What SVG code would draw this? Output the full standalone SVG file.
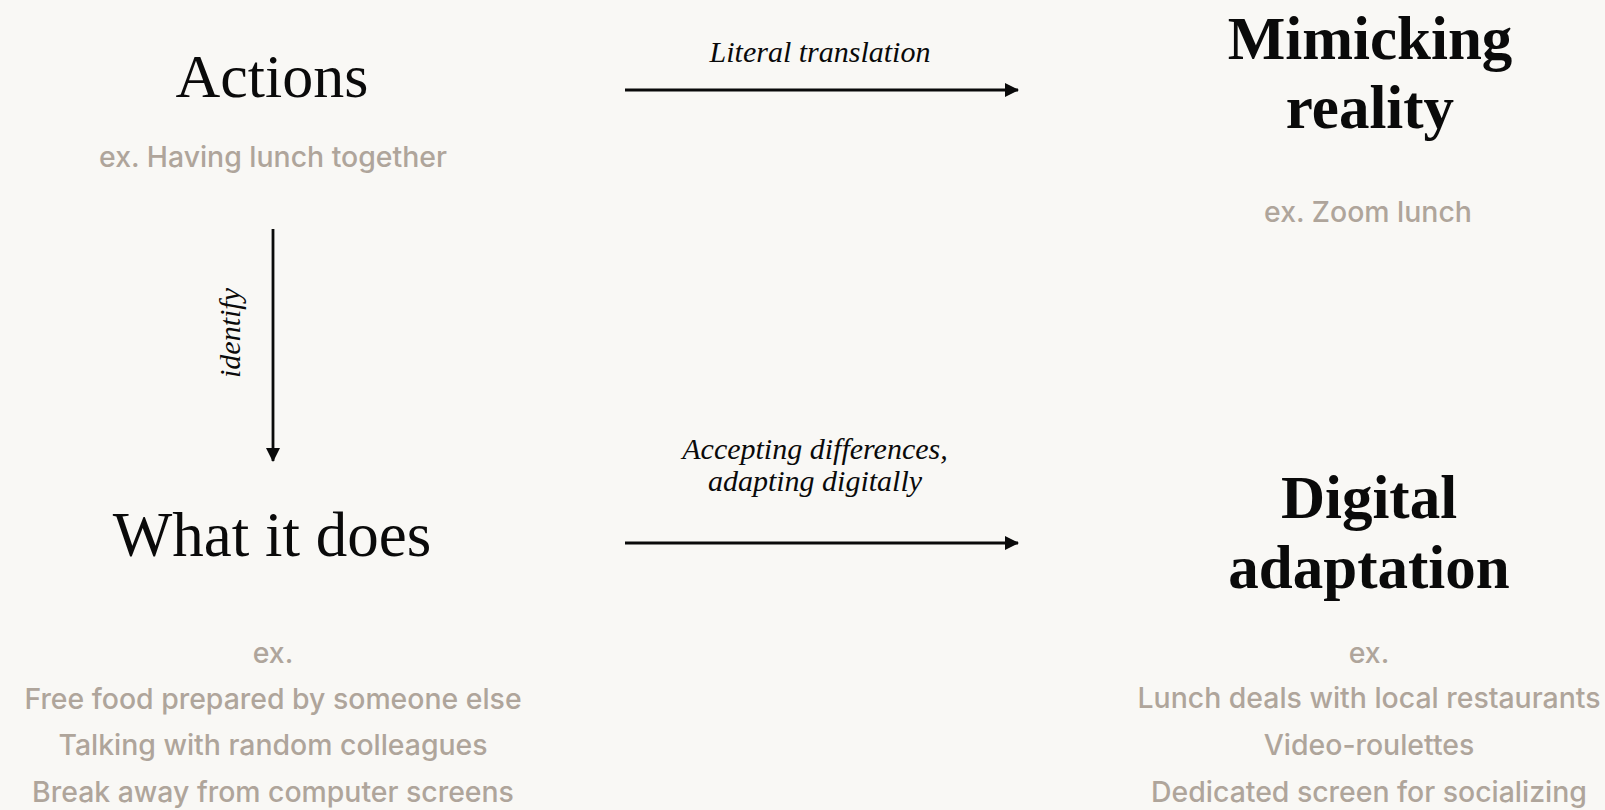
<svg xmlns="http://www.w3.org/2000/svg" width="1605" height="810" viewBox="0 0 1605 810">
<style>
.title{font-family:"Liberation Serif","DejaVu Serif",serif;font-size:62px;fill:#0a0a0a;text-anchor:middle}
.bold{font-weight:bold;font-size:61px}
.sub{font-family:Inter,"Liberation Sans",sans-serif;font-size:28.4px;font-weight:500;fill:#afa59b;text-anchor:middle}
.lbl{font-family:"Liberation Serif","DejaVu Serif",serif;font-style:italic;font-size:30px;fill:#0a0a0a;text-anchor:middle}
.conn{stroke:#0a0a0a;stroke-width:2.8;fill:none}
</style>
<defs>
<marker id="ah" viewBox="0 0 14 14" refX="13" refY="7" markerWidth="14" markerHeight="14" markerUnits="userSpaceOnUse" orient="auto">
<path d="M0,0 L14,7 L0,14 Z" fill="#0a0a0a"/>
</marker>
</defs>
<rect width="1605" height="810" fill="#f9f8f5"/>
<g id="actions">
<text class="title" x="272" y="97">Actions</text>
<text class="sub" x="273" y="167">ex. Having lunch together</text>
</g>
<g id="mimicking">
<text class="title bold" x="1370" y="59">Mimicking</text>
<text class="title bold" x="1370" y="128">reality</text>
<text class="sub" x="1368" y="222">ex. Zoom lunch</text>
</g>
<g id="what-it-does">
<text class="title" x="272" y="556" style="font-size:63px">What it does</text>
<text class="sub" x="273" y="663">ex.</text>
<text class="sub" x="273" y="709">Free food prepared by someone else</text>
<text class="sub" x="273" y="755">Talking with random colleagues</text>
<text class="sub" x="273" y="802">Break away from computer screens</text>
</g>
<g id="digital-adaptation">
<text class="title bold" x="1369" y="518">Digital</text>
<text class="title bold" x="1369" y="588">adaptation</text>
<text class="sub" x="1369" y="663">ex.</text>
<text class="sub" x="1369" y="708">Lunch deals with local restaurants</text>
<text class="sub" x="1369" y="755">Video-roulettes</text>
<text class="sub" x="1369" y="802">Dedicated screen for socializing</text>
</g>
<g id="connectors">
<line class="conn" x1="625" y1="90" x2="1018" y2="90" marker-end="url(#ah)"/>
<text class="lbl" x="820" y="62">Literal translation</text>
<line class="conn" x1="273" y1="229" x2="273" y2="461" marker-end="url(#ah)"/>
<text class="lbl" transform="translate(240,333) rotate(-90)" x="0" y="0">identify</text>
<line class="conn" x1="625" y1="543" x2="1018" y2="543" marker-end="url(#ah)"/>
<text class="lbl" x="815" y="459">Accepting differences,</text>
<text class="lbl" x="815" y="491">adapting digitally</text>
</g>
</svg>
